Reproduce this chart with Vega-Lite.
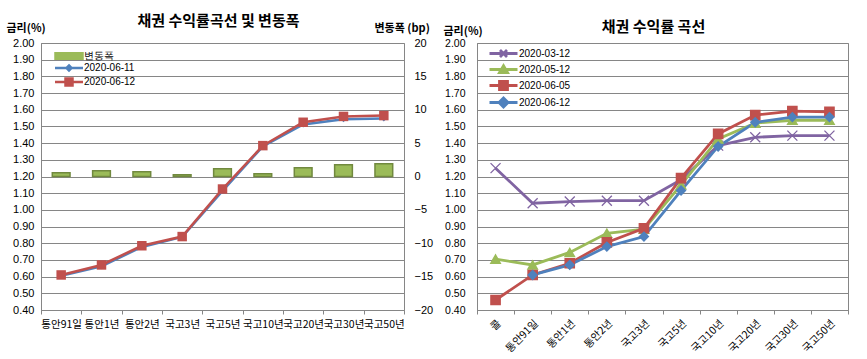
{
  "$schema": "https://vega.github.io/schema/vega-lite/v6.json",
  "background": "white",
  "padding": {"left": 5, "top": 13, "right": 5, "bottom": 5},
  "bounds": "flush",
  "spacing": 73,
  "resolve": {"scale": {"color": "independent", "shape": "independent", "size": "independent", "fill": "independent", "y": "independent", "x": "independent"}, "legend": {"color": "independent"}},
  "config": {
    "view": {"stroke": "#868686", "strokeWidth": 1},
    "axis": {"labelColor": "#000", "titleColor": "#000", "domainColor": "#868686", "tickColor": "#868686", "gridColor": "#868686"},
    "title": {"color": "#000"}
  },
  "datasets": {
    "bars": [
      {"cat": "통안91일", "series": "변동폭", "bp": 0.55},
      {"cat": "통안1년", "series": "변동폭", "bp": 0.85},
      {"cat": "통안2년", "series": "변동폭", "bp": 0.7},
      {"cat": "국고3년", "series": "변동폭", "bp": 0.25},
      {"cat": "국고5년", "series": "변동폭", "bp": 1.15},
      {"cat": "국고10년", "series": "변동폭", "bp": 0.4},
      {"cat": "국고20년", "series": "변동폭", "bp": 1.3},
      {"cat": "국고30년", "series": "변동폭", "bp": 1.75},
      {"cat": "국고50년", "series": "변동폭", "bp": 1.9}
    ],
    "left": [
      {"cat": "통안91일", "series": "2020-06-11", "value": 0.6045},
      {"cat": "통안1년", "series": "2020-06-11", "value": 0.6615},
      {"cat": "통안2년", "series": "2020-06-11", "value": 0.778},
      {"cat": "국고3년", "series": "2020-06-11", "value": 0.8375},
      {"cat": "국고5년", "series": "2020-06-11", "value": 1.1135},
      {"cat": "국고10년", "series": "2020-06-11", "value": 1.381},
      {"cat": "국고20년", "series": "2020-06-11", "value": 1.512},
      {"cat": "국고30년", "series": "2020-06-11", "value": 1.5425},
      {"cat": "국고50년", "series": "2020-06-11", "value": 1.5475},
      {"cat": "통안91일", "series": "2020-06-12", "value": 0.61},
      {"cat": "통안1년", "series": "2020-06-12", "value": 0.67},
      {"cat": "통안2년", "series": "2020-06-12", "value": 0.785},
      {"cat": "국고3년", "series": "2020-06-12", "value": 0.84},
      {"cat": "국고5년", "series": "2020-06-12", "value": 1.125},
      {"cat": "국고10년", "series": "2020-06-12", "value": 1.385},
      {"cat": "국고20년", "series": "2020-06-12", "value": 1.525},
      {"cat": "국고30년", "series": "2020-06-12", "value": 1.56},
      {"cat": "국고50년", "series": "2020-06-12", "value": 1.565}
    ],
    "right": [
      {"cat": "콜", "series": "2020-03-12", "value": 1.25},
      {"cat": "통안91일", "series": "2020-03-12", "value": 1.04},
      {"cat": "통안1년", "series": "2020-03-12", "value": 1.05},
      {"cat": "통안2년", "series": "2020-03-12", "value": 1.055},
      {"cat": "국고3년", "series": "2020-03-12", "value": 1.055},
      {"cat": "국고5년", "series": "2020-03-12", "value": 1.18},
      {"cat": "국고10년", "series": "2020-03-12", "value": 1.385},
      {"cat": "국고20년", "series": "2020-03-12", "value": 1.435},
      {"cat": "국고30년", "series": "2020-03-12", "value": 1.445},
      {"cat": "국고50년", "series": "2020-03-12", "value": 1.445},
      {"cat": "콜", "series": "2020-05-12", "value": 0.705},
      {"cat": "통안91일", "series": "2020-05-12", "value": 0.67},
      {"cat": "통안1년", "series": "2020-05-12", "value": 0.745},
      {"cat": "통안2년", "series": "2020-05-12", "value": 0.86},
      {"cat": "국고3년", "series": "2020-05-12", "value": 0.885},
      {"cat": "국고5년", "series": "2020-05-12", "value": 1.15},
      {"cat": "국고10년", "series": "2020-05-12", "value": 1.425},
      {"cat": "국고20년", "series": "2020-05-12", "value": 1.52},
      {"cat": "국고30년", "series": "2020-05-12", "value": 1.537},
      {"cat": "국고50년", "series": "2020-05-12", "value": 1.537},
      {"cat": "콜", "series": "2020-06-05", "value": 0.46},
      {"cat": "통안91일", "series": "2020-06-05", "value": 0.61},
      {"cat": "통안1년", "series": "2020-06-05", "value": 0.68},
      {"cat": "통안2년", "series": "2020-06-05", "value": 0.805},
      {"cat": "국고3년", "series": "2020-06-05", "value": 0.89},
      {"cat": "국고5년", "series": "2020-06-05", "value": 1.19},
      {"cat": "국고10년", "series": "2020-06-05", "value": 1.455},
      {"cat": "국고20년", "series": "2020-06-05", "value": 1.568},
      {"cat": "국고30년", "series": "2020-06-05", "value": 1.592},
      {"cat": "국고50년", "series": "2020-06-05", "value": 1.587},
      {"cat": "통안91일", "series": "2020-06-12", "value": 0.61},
      {"cat": "통안1년", "series": "2020-06-12", "value": 0.67},
      {"cat": "통안2년", "series": "2020-06-12", "value": 0.78},
      {"cat": "국고3년", "series": "2020-06-12", "value": 0.84},
      {"cat": "국고5년", "series": "2020-06-12", "value": 1.116},
      {"cat": "국고10년", "series": "2020-06-12", "value": 1.38},
      {"cat": "국고20년", "series": "2020-06-12", "value": 1.525},
      {"cat": "국고30년", "series": "2020-06-12", "value": 1.556},
      {"cat": "국고50년", "series": "2020-06-12", "value": 1.556}
    ]
  },
  "hconcat": [
    {
      "width": 363,
      "height": 267,
      "title": {"text": "채권 수익률곡선 및 변동폭", "font": "Noto Sans CJK KR", "fontSize": 15, "fontWeight": "bold", "anchor": "middle", "dx": -4, "offset": -7},
      "layer": [
        {
          "data": {"name": "bars"},
          "mark": {"type": "bar", "width": {"band": 0.44}, "stroke": "#71893F", "strokeWidth": 1.5},
          "encoding": {
            "x": {"field": "cat", "type": "nominal", "sort": ["통안91일", "통안1년", "통안2년", "국고3년", "국고5년", "국고10년", "국고20년", "국고30년", "국고50년"],
                  "scale": {"paddingInner": 0, "paddingOuter": 0},
                  "axis": {"title": null, "labelAngle": 0, "tickBand": "extent", "tickSize": 4, "labelPadding": 5, "labelFont": "Noto Sans CJK KR", "labelFontSize": 10.5, "labelOverlap": false, "labelLimit": 300, "labelBound": false, "domain": true}},
            "y": {"field": "bp", "type": "quantitative", "scale": {"domain": [-20, 20], "nice": false, "zero": true},
                  "axis": {"orient": "right", "values": [-20, -15, -10, -5, 0, 5, 10, 15, 20], "grid": false, "ticks": false, "domain": false, "labelPadding": 10, "labelAlign": "left", "labelFont": "Liberation Sans", "labelFontSize": 11,
                           "title": "변동폭 (bp)", "titleAngle": 0, "titleX": -30, "titleY": -10, "titleAlign": "left", "titleFont": "Noto Sans CJK KR", "titleFontSize": 11, "titleFontWeight": "bold"}},
            "color": {"field": "series", "type": "nominal",
                      "scale": {"domain": ["변동폭", "2020-06-11", "2020-06-12"], "range": ["#9BBB59", "#4F81BD", "#C0504D"]},
                      "legend": {"orient": "none", "legendX": 14, "legendY": 8, "title": null, "padding": 0, "rowPadding": -3, "labelFont": "Liberation Sans", "labelFontSize": 10, "labelOffset": 19, "symbolSize": 100, "symbolLimit": 0,
                                 "encoding": {"symbols": {
                                   "shape": {"value": {"expr": "datum.value === '변동폭' ? 'M-1,-0.66H4.6V0.66H-1Z' : datum.value === '2020-06-11' ? 'M-1,0H4.6M1.8,-0.5L2.3,0L1.8,0.5L1.3,0Z' : 'M-1,0H4.6M1.1,-0.7H2.5V0.7H1.1Z'"}},
                                   "fill": {"value": {"expr": "datum.value === '변동폭' ? '#9BBB59' : datum.value === '2020-06-11' ? '#4F81BD' : '#C0504D'"}},
                                   "stroke": {"value": {"expr": "datum.value === '변동폭' ? '#71893F' : datum.value === '2020-06-11' ? '#4F81BD' : '#C0504D'"}},
                                   "strokeWidth": {"value": {"expr": "datum.value === '변동폭' ? 1.5 : 2.5"}},
                                   "size": {"value": 100},
                                   "opacity": {"value": 1}
                                 }}}}
          }
        },
        {
          "data": {"name": "left"},
          "layer": [
            {
              "mark": {"type": "line", "strokeWidth": 2.5},
              "encoding": {
                "x": {"field": "cat", "type": "nominal", "sort": ["통안91일", "통안1년", "통안2년", "국고3년", "국고5년", "국고10년", "국고20년", "국고30년", "국고50년"]},
                "y": {"field": "value", "type": "quantitative", "scale": {"domain": [0.4, 2.0], "nice": false, "zero": false},
                      "axis": {"orient": "left", "values": [0.4, 0.5, 0.6, 0.7, 0.8, 0.9, 1.0, 1.1, 1.2, 1.3, 1.4, 1.5, 1.6, 1.7, 1.8, 1.9, 2.0], "format": ".2f", "grid": true, "ticks": false, "labelPadding": 7, "labelFont": "Liberation Sans", "labelFontSize": 11, "labelOverlap": false,
                               "title": "금리(%)", "titleAngle": 0, "titleX": -35, "titleY": -10, "titleAlign": "left", "titleFont": "Noto Sans CJK KR", "titleFontSize": 11, "titleFontWeight": "bold"}},
                "color": {"field": "series", "type": "nominal"}
              }
            },
            {
              "mark": {"type": "point", "filled": true, "opacity": 1},
              "encoding": {
                "x": {"field": "cat", "type": "nominal", "sort": ["통안91일", "통안1년", "통안2년", "국고3년", "국고5년", "국고10년", "국고20년", "국고30년", "국고50년"]},
                "y": {"field": "value", "type": "quantitative", "scale": {"domain": [0.4, 2.0], "nice": false, "zero": false},
                      "axis": {"orient": "left", "values": [0.4, 0.5, 0.6, 0.7, 0.8, 0.9, 1.0, 1.1, 1.2, 1.3, 1.4, 1.5, 1.6, 1.7, 1.8, 1.9, 2.0], "format": ".2f", "grid": true, "ticks": false, "labelPadding": 7, "labelFont": "Liberation Sans", "labelFontSize": 11, "labelOverlap": false,
                               "title": "금리(%)", "titleAngle": 0, "titleX": -35, "titleY": -10, "titleAlign": "left", "titleFont": "Noto Sans CJK KR", "titleFontSize": 11, "titleFontWeight": "bold"}},
                "color": {"field": "series", "type": "nominal"},
                "shape": {"field": "series", "type": "nominal", "scale": {"domain": ["2020-06-11", "2020-06-12"], "range": ["diamond", "square"]}, "legend": null},
                "size": {"field": "series", "type": "nominal", "scale": {"domain": ["2020-06-11", "2020-06-12"], "range": [36, 90]}, "legend": null}
              }
            }
          ]
        }
      ],
      "resolve": {"scale": {"y": "independent"}}
    },
    {
      "width": 371,
      "height": 267,
      "title": {"text": "채권 수익률 곡선", "font": "Noto Sans CJK KR", "fontSize": 15, "fontWeight": "bold", "anchor": "middle", "dx": -9, "offset": -10},
      "data": {"name": "right"},
      "layer": [
        {
          "mark": {"type": "line", "strokeWidth": 2.8},
          "encoding": {
            "x": {"field": "cat", "type": "nominal", "sort": ["콜", "통안91일", "통안1년", "통안2년", "국고3년", "국고5년", "국고10년", "국고20년", "국고30년", "국고50년"],
                  "scale": {"paddingInner": 0, "paddingOuter": 0},
                  "axis": {"title": null, "labelAngle": -45, "tickBand": "extent", "tickSize": 4, "labelPadding": 4, "labelFont": "Noto Sans CJK KR", "labelFontSize": 10.5, "labelOverlap": false, "labelLimit": 300, "labelBound": false}},
            "y": {"field": "value", "type": "quantitative", "scale": {"domain": [0.4, 2.0], "nice": false, "zero": false},
                  "axis": {"values": [0.4, 0.5, 0.6, 0.7, 0.8, 0.9, 1.0, 1.1, 1.2, 1.3, 1.4, 1.5, 1.6, 1.7, 1.8, 1.9, 2.0], "format": ".2f", "grid": true, "ticks": false, "labelPadding": 12, "labelFont": "Liberation Sans", "labelFontSize": 10.5, "labelOverlap": false,
                           "title": "금리(%)", "titleAngle": 0, "titleX": -34, "titleY": -7, "titleAlign": "left", "titleFont": "Noto Sans CJK KR", "titleFontSize": 11, "titleFontWeight": "bold"}},
            "color": {"field": "series", "type": "nominal",
                      "scale": {"domain": ["2020-03-12", "2020-05-12", "2020-06-05", "2020-06-12"], "range": ["#8064A2", "#9BBB59", "#C0504D", "#4F81BD"]},
                      "legend": {"orient": "none", "legendX": 11, "legendY": 4, "title": null, "padding": 0, "rowPadding": -6, "labelFont": "Liberation Sans", "labelFontSize": 10, "labelOffset": 18, "symbolSize": 100, "symbolLimit": 0,
                                 "encoding": {"symbols": {
                                   "shape": {"value": {"expr": "datum.value === '2020-03-12' ? 'M-1,0H4.6M1.1,-0.7L2.5,0.7M1.1,0.7L2.5,-0.7' : datum.value === '2020-05-12' ? 'M-1,0H4.6M1.8,-0.75L2.6,0.6H1Z' : datum.value === '2020-06-05' ? 'M-1,0H4.6M1,-0.8H2.6V0.8H1Z' : 'M-1,0H4.6M1.8,-0.9L2.7,0L1.8,0.9L0.9,0Z'"}},
                                   "fill": {"value": {"expr": "datum.value === '2020-03-12' ? 'transparent' : datum.value === '2020-05-12' ? '#9BBB59' : datum.value === '2020-06-05' ? '#C0504D' : '#4F81BD'"}},
                                   "stroke": {"value": {"expr": "datum.value === '2020-03-12' ? '#8064A2' : datum.value === '2020-05-12' ? '#9BBB59' : datum.value === '2020-06-05' ? '#C0504D' : '#4F81BD'"}},
                                   "strokeWidth": {"value": 2.8},
                                   "size": {"value": 100},
                                   "opacity": {"value": 1}
                                 }}}}
          }
        },
        {
          "mark": {"type": "point", "opacity": 1, "strokeWidth": 1.3},
          "encoding": {
            "x": {"field": "cat", "type": "nominal", "sort": ["콜", "통안91일", "통안1년", "통안2년", "국고3년", "국고5년", "국고10년", "국고20년", "국고30년", "국고50년"],
                  "scale": {"paddingInner": 0, "paddingOuter": 0},
                  "axis": {"title": null, "labelAngle": -45, "tickBand": "extent", "tickSize": 4, "labelPadding": 4, "labelFont": "Noto Sans CJK KR", "labelFontSize": 10.5, "labelOverlap": false, "labelLimit": 300, "labelBound": false}},
            "y": {"field": "value", "type": "quantitative", "scale": {"domain": [0.4, 2.0], "nice": false, "zero": false},
                  "axis": {"values": [0.4, 0.5, 0.6, 0.7, 0.8, 0.9, 1.0, 1.1, 1.2, 1.3, 1.4, 1.5, 1.6, 1.7, 1.8, 1.9, 2.0], "format": ".2f", "grid": true, "ticks": false, "labelPadding": 12, "labelFont": "Liberation Sans", "labelFontSize": 10.5, "labelOverlap": false,
                           "title": "금리(%)", "titleAngle": 0, "titleX": -34, "titleY": -7, "titleAlign": "left", "titleFont": "Noto Sans CJK KR", "titleFontSize": 11, "titleFontWeight": "bold"}},
            "color": {"field": "series", "type": "nominal"},
            "fill": {"field": "series", "type": "nominal", "scale": {"domain": ["2020-06-12", "2020-06-05", "2020-05-12", "2020-03-12"], "range": ["#4F81BD", "#C0504D", "#9BBB59", "transparent"]}, "legend": null},
            "shape": {"field": "series", "type": "nominal", "scale": {"domain": ["2020-06-12", "2020-06-05", "2020-05-12", "2020-03-12"], "range": ["diamond", "square", "triangle-up", "M-1,-1L1,1M-1,1L1,-1"]}, "legend": null},
            "size": {"field": "series", "type": "nominal", "scale": {"domain": ["2020-06-12", "2020-06-05", "2020-05-12", "2020-03-12"], "range": [81, 100, 100, 100]}, "legend": null}
          }
        }
      ]
    }
  ]
}
